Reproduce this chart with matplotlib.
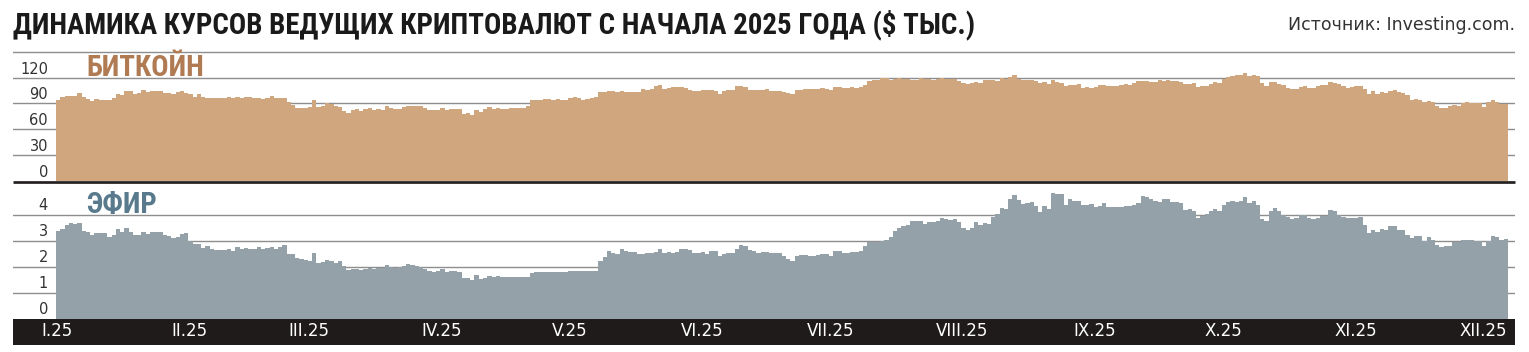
import numpy as np
import pandas as pd
import matplotlib
matplotlib.use("Agg")
import matplotlib.pyplot as plt
from matplotlib import font_manager
from matplotlib.font_manager import FontProperties
from matplotlib.patches import Rectangle
from matplotlib.lines import Line2D
import matplotlib.transforms as mtransforms

# ---------------- data (thousand USD, daily, from 1 Jan 2025) ----------------
btc_jan = [94.4, 96.9, 98.1, 98.2, 98.3, 102.2, 96.9, 95.0, 92.5, 94.7, 94.5, 94.5, 94.5, 96.5, 100.5, 99.9,
           104.1, 104.4, 101.1, 102.0, 106.1, 103.6, 104.0, 104.7, 104.7, 102.6, 102.1, 101.3, 103.7, 104.7, 102.4]
btc_feb = [100.6, 97.6, 101.4, 97.8, 96.6, 96.5, 96.5, 96.5, 96.4, 97.4, 95.8, 97.9, 96.6, 97.5, 97.6, 96.2,
           95.8, 95.6, 96.6, 98.3, 96.1, 96.6, 96.3, 91.5, 88.7, 84.3, 84.7, 84.4]
btc_mar = [86.0, 94.3, 86.1, 87.2, 90.6, 89.9, 86.8, 86.2, 80.7, 78.5, 82.9, 83.7, 81.1, 84.0, 84.3, 82.6,
           84.1, 82.7, 86.8, 84.2, 84.1, 83.8, 86.1, 87.5, 87.4, 86.9, 87.2, 84.4, 82.6, 82.4, 82.5]
btc_apr = [85.2, 82.5, 83.1, 83.9, 83.5, 78.2, 79.2, 76.3, 82.6, 79.6, 83.4, 85.3, 83.7, 84.5, 83.6, 84.0,
           84.9, 84.5, 85.1, 85.2, 87.5, 93.4, 93.7, 93.9, 94.7, 94.6, 93.8, 95.0, 94.3, 94.2]
btc_may = [96.5, 96.9, 95.9, 94.3, 94.7, 96.8, 97.0, 103.2, 102.9, 104.6, 104.1, 102.8, 104.2, 103.5, 103.7,
           103.5, 103.2, 106.5, 105.6, 106.8, 109.7, 111.7, 107.3, 107.8, 109.0, 109.4, 108.9, 107.8, 105.6,
           103.9, 104.6]
btc_jun = [105.7, 105.0, 105.4, 104.7, 101.5, 104.3, 105.6, 105.8, 110.3, 110.3, 108.6, 105.7, 105.9, 105.5,
           105.6, 106.8, 104.6, 104.9, 104.6, 103.3, 102.2, 100.9, 105.5, 106.0, 107.3, 107.1, 107.3, 107.3,
           108.4, 107.1]
btc_jul = [105.7, 108.8, 109.6, 108.0, 108.2, 109.2, 108.2, 108.9, 111.3, 115.9, 117.5, 117.4, 119.1, 119.8,
           117.7, 118.7, 119.3, 117.9, 117.9, 117.3, 117.4, 120.0, 118.8, 118.4, 117.6, 117.9, 119.4, 118.0,
           117.9, 117.8, 115.8]
btc_aug = [113.3, 112.5, 114.2, 115.0, 114.1, 117.5, 117.4, 116.7, 116.5, 119.3, 118.7, 120.1, 123.3, 118.4,
           117.4, 117.5, 117.4, 116.3, 113.5, 114.3, 112.4, 116.9, 115.4, 113.5, 110.1, 111.8, 111.2, 112.5,
           108.4, 108.8, 108.2]
btc_sep = [109.2, 111.2, 111.7, 110.7, 110.7, 110.2, 111.2, 112.1, 111.5, 113.3, 115.5, 116.1, 115.9, 115.3,
           115.4, 116.8, 116.5, 117.1, 115.7, 115.7, 115.3, 112.7, 112.0, 113.3, 109.0, 109.7, 109.7, 112.2,
           114.4, 114.1]
btc_oct = [118.6, 120.6, 122.3, 122.4, 123.5, 124.8, 121.5, 123.3, 121.7, 113.2, 110.6, 115.2, 115.3, 113.0,
           110.8, 108.2, 106.5, 107.2, 108.7, 110.5, 108.4, 107.6, 110.1, 111.0, 111.6, 114.5, 114.1, 112.9,
           110.0, 108.3, 109.6]
btc_nov = [110.1, 110.6, 106.5, 101.5, 103.9, 101.3, 103.4, 102.3, 104.7, 106.0, 103.0, 101.6, 99.7, 94.5,
           95.5, 94.2, 92.2, 92.9, 91.5, 86.6, 85.1, 84.7, 86.8, 88.3, 87.3, 90.5, 91.3, 90.9, 90.8, 90.4]
btc_dec = [86.3, 91.3, 93.5, 92.1, 89.4, 89.3]

eth_jan = [3.35, 3.45, 3.61, 3.66, 3.63, 3.69, 3.38, 3.33, 3.22, 3.27, 3.28, 3.27, 3.13, 3.22, 3.45, 3.31,
           3.47, 3.31, 3.21, 3.22, 3.33, 3.24, 3.34, 3.31, 3.32, 3.23, 3.18, 3.08, 3.12, 3.25, 3.30]
eth_feb = [3.00, 2.87, 2.88, 2.73, 2.78, 2.69, 2.62, 2.63, 2.63, 2.66, 2.60, 2.74, 2.68, 2.72, 2.69, 2.66,
           2.74, 2.67, 2.72, 2.74, 2.66, 2.76, 2.82, 2.50, 2.49, 2.33, 2.30, 2.24]
eth_mar = [2.22, 2.52, 2.15, 2.17, 2.24, 2.20, 2.14, 2.20, 2.02, 1.86, 1.92, 1.90, 1.86, 1.91, 1.94, 1.89,
           1.93, 1.93, 2.06, 1.98, 1.96, 1.98, 2.01, 2.08, 2.06, 2.01, 2.00, 1.90, 1.83, 1.80, 1.82]
eth_apr = [1.90, 1.79, 1.81, 1.81, 1.80, 1.55, 1.55, 1.47, 1.66, 1.52, 1.57, 1.64, 1.59, 1.62, 1.59, 1.58,
           1.58, 1.59, 1.61, 1.59, 1.58, 1.76, 1.79, 1.77, 1.79, 1.79, 1.79, 1.80, 1.80, 1.79]
eth_may = [1.84, 1.84, 1.83, 1.81, 1.82, 1.81, 1.81, 2.20, 2.35, 2.58, 2.51, 2.49, 2.68, 2.61, 2.54, 2.55,
           2.48, 2.50, 2.52, 2.53, 2.55, 2.66, 2.52, 2.54, 2.53, 2.56, 2.66, 2.68, 2.63, 2.53, 2.53]
eth_jun = [2.54, 2.49, 2.59, 2.61, 2.42, 2.48, 2.52, 2.51, 2.68, 2.82, 2.78, 2.64, 2.58, 2.52, 2.55, 2.55,
           2.51, 2.52, 2.52, 2.41, 2.29, 2.23, 2.41, 2.44, 2.45, 2.42, 2.42, 2.44, 2.50, 2.49]
eth_jul = [2.40, 2.58, 2.59, 2.52, 2.52, 2.57, 2.54, 2.61, 2.77, 2.95, 2.96, 2.94, 2.97, 3.01, 3.14, 3.37,
           3.48, 3.55, 3.59, 3.76, 3.76, 3.75, 3.64, 3.73, 3.71, 3.74, 3.87, 3.82, 3.80, 3.82, 3.70]
eth_aug = [3.48, 3.40, 3.50, 3.72, 3.61, 3.68, 3.63, 3.91, 4.01, 4.25, 4.22, 4.60, 4.75, 4.55, 4.42, 4.44,
           4.47, 4.31, 4.08, 4.34, 4.23, 4.83, 4.78, 4.77, 4.38, 4.60, 4.51, 4.51, 4.36, 4.37, 4.39]
eth_sep = [4.30, 4.33, 4.45, 4.30, 4.30, 4.27, 4.30, 4.31, 4.31, 4.35, 4.46, 4.71, 4.67, 4.60, 4.52, 4.50,
           4.59, 4.59, 4.47, 4.48, 4.46, 4.19, 4.20, 4.15, 3.87, 3.93, 4.03, 4.13, 4.22, 4.15]
eth_oct = [4.35, 4.49, 4.51, 4.49, 4.51, 4.69, 4.46, 4.53, 4.37, 3.83, 3.74, 4.15, 4.24, 4.12, 3.99, 3.89,
           3.83, 3.88, 3.98, 3.98, 3.88, 3.81, 3.86, 3.93, 3.95, 4.16, 4.12, 3.98, 3.90, 3.85, 3.85]
eth_nov = [3.87, 3.90, 3.60, 3.29, 3.41, 3.31, 3.44, 3.40, 3.57, 3.57, 3.41, 3.42, 3.23, 3.11, 3.17, 3.16,
           3.00, 3.13, 3.02, 2.83, 2.75, 2.77, 2.80, 2.95, 2.96, 3.02, 3.02, 3.03, 2.99, 2.99]
eth_dec = [2.80, 3.00, 3.19, 3.13, 3.03, 3.04]

btc = np.array(btc_jan + btc_feb + btc_mar + btc_apr + btc_may + btc_jun + btc_jul + btc_aug +
               btc_sep + btc_oct + btc_nov + btc_dec)
eth = np.array(eth_jan + eth_feb + eth_mar + eth_apr + eth_may + eth_jun + eth_jul + eth_aug +
               eth_sep + eth_oct + eth_nov + eth_dec)

month_labels = ["I.25", "II.25", "III.25", "IV.25", "V.25", "VI.25",
                "VII.25", "VIII.25", "IX.25", "X.25", "XI.25", "XII.25"]
btc_ticks = [0, 30, 60, 90, 120]
eth_ticks = [0, 1, 2, 3, 4]

title = "ДИНАМИКА КУРСОВ ВЕДУЩИХ КРИПТОВАЛЮТ С НАЧАЛА 2025 ГОДА ($ ТЫС.)"
source = "Источник: Investing.com."

dates = pd.date_range("2025-01-01", periods=len(btc), freq="D")
month_pos = np.where(dates.day == 1)[0]

# ---------------- style ----------------
W, H, DPI = 1529, 352, 100
BTC_C = "#D0A67E"
BTC_T = "#B07A52"
ETH_C = "#94A1A8"
ETH_T = "#587A8C"
GRID_C = "#8E8E8E"
DARK = "#1F1B1B"


def find_font(bold=True):
    cands = []
    for f in font_manager.fontManager.ttflist:
        w = f.weight if isinstance(f.weight, int) else (700 if "bold" in str(f.weight).lower() else 400)
        isbold = w >= 600
        if isbold != bold:
            continue
        nm = f.name
        st = str(f.stretch).lower()
        if f.style != "normal":
            continue
        score = None
        if nm == "Roboto Condensed":
            score = 0
        elif nm == "Liberation Sans Narrow":
            score = 1
        elif nm.startswith("DejaVu Sans") and ("condensed" in st or "Condensed" in nm) and "Mono" not in nm:
            score = 2
        elif ("Condensed" in nm or "Narrow" in nm or "condensed" in st) and "Mono" not in nm:
            score = 3
        if score is not None:
            cands.append((score, f.fname))
    if cands:
        cands.sort()
        return FontProperties(fname=cands[0][1])
    return FontProperties(family="DejaVu Sans", weight="bold" if bold else "normal")


cond_bold = find_font(True)

fig = plt.figure(figsize=(W / DPI, H / DPI), dpi=DPI)
fig.patch.set_facecolor("white")


def fx(x):
    return x / W


def fy(y):
    return 1 - y / H


L, R = 13, 1515
X0, DW = 56, 4.27
xlim = ((L - X0) / DW, (R - X0) / DW)

# top panel
top_base, top_top = 181.0, 50.0
btc_ppu = 25.86 / 30
ax1 = fig.add_axes([fx(L), fy(top_base), (R - L) / W, (top_base - top_top) / H])
ax1.set_xlim(*xlim)
ax1.set_ylim(0, (top_base - top_top) / btc_ppu)

# bottom panel
bot_base, bot_top = 318.5, 182.0
eth_ppu = 26.0
ax2 = fig.add_axes([fx(L), fy(bot_base), (R - L) / W, (bot_base - bot_top) / H])
ax2.set_xlim(*xlim)
ax2.set_ylim(0, (bot_base - bot_top) / eth_ppu)

edges = np.arange(len(btc) + 1)
for ax, vals, col, grid in [(ax1, btc, BTC_C, [30, 60, 90, 120, 150]),
                            (ax2, eth, ETH_C, [1, 2, 3, 4])]:
    ax.set_axis_off()
    for g in grid:
        ax.axhline(g, color=GRID_C, lw=1.0, zorder=0)
    ax.stairs(vals, edges, fill=True, color=col, linewidth=0, zorder=2)

tick_kw = dict(fontsize=10.5, color="#333333", ha="right", va="baseline", family="DejaVu Sans")
for ax, ticks in [(ax1, btc_ticks), (ax2, eth_ticks)]:
    tr = mtransforms.offset_copy(ax.transData, fig=fig, x=0, y=4, units="dots")
    for t in ticks:
        ax.text((48 - X0) / DW, t, str(t), transform=tr, zorder=5, **tick_kw)

# separator line between panels
fig.add_artist(Line2D([fx(L), fx(R)], [fy(181.5), fy(181.5)], lw=2.7 * 72 / DPI, color="#231F20",
                      solid_capstyle="butt"))

# bottom month band
fig.add_artist(Rectangle((fx(L), fy(344.5)), (R - L) / W, (344.5 - bot_base) / H,
                         transform=fig.transFigure, facecolor=DARK, edgecolor="none"))
for p, lab in zip(month_pos, month_labels):
    fig.text(fx(X0 + (p + 0.3) * DW), fy(331.5), lab, color="white", fontsize=12,
             ha="center", va="center", family="DejaVu Sans")

renderer = fig.canvas.get_renderer()


def fit(t, target_w):
    bb = t.get_window_extent(renderer)
    t.set_fontsize(t.get_fontsize() * target_w / bb.width)


t_title = fig.text(fx(13), fy(33), title, fontproperties=cond_bold, fontsize=18,
                   color="#1A1A1A", ha="left", va="baseline")
fit(t_title, 962)

t_src = fig.text(fx(1515), fy(30), source, fontsize=12, color="#333333",
                 ha="right", va="baseline", family="DejaVu Sans")
fit(t_src, 225)

t_b = fig.text(fx(86), fy(76), "БИТКОЙН", fontproperties=cond_bold, fontsize=16,
               color=BTC_T, ha="left", va="baseline", zorder=6)
fit(t_b, 118)

t_e = fig.text(fx(86), fy(213.5), "ЭФИР", fontproperties=cond_bold, fontsize=16,
               color=ETH_T, ha="left", va="baseline", zorder=6)
fit(t_e, 71)

fig.savefig("out.png", dpi=DPI, facecolor="white")
